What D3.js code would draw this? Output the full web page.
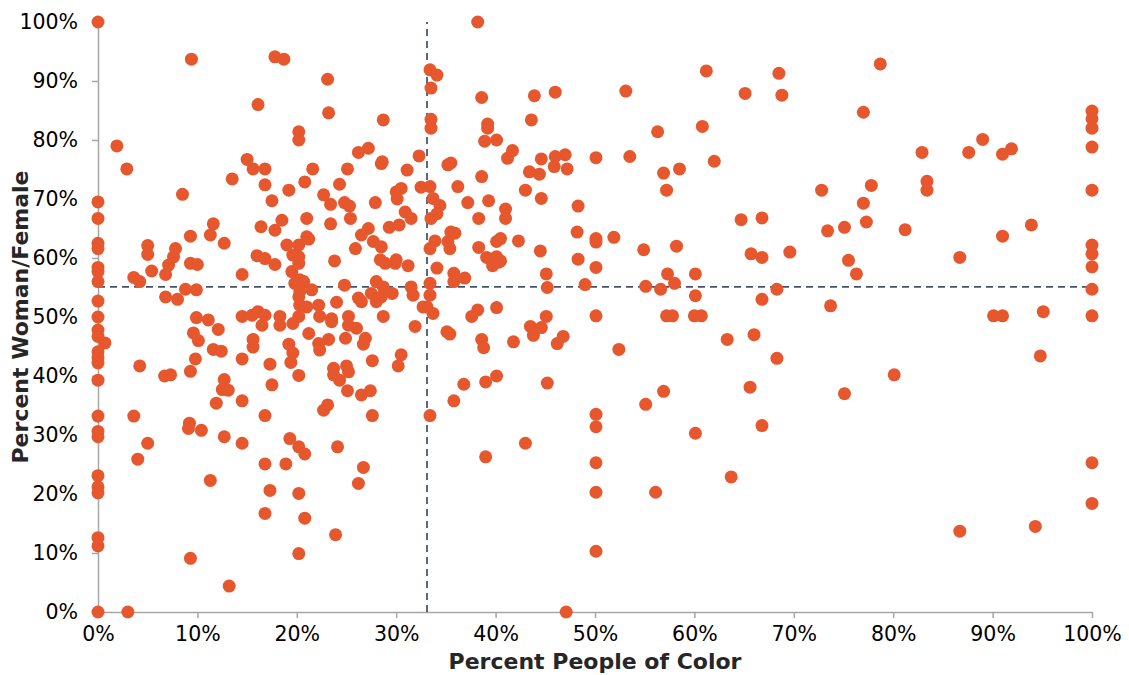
<!DOCTYPE html>
<html>
<head>
<meta charset="utf-8">
<script src="https://cdn.jsdelivr.net/npm/d3@7"></script>
<style>
  body { margin: 0; background: #fff; }
  svg { display: block; font-family: "DejaVu Sans", Verdana, sans-serif; }
  .axis path, .axis line { stroke: #a6a6a6; stroke-width: 1.5; }
  .axis text { fill: #000; font-size: 20.5px; font-family: "DejaVu Sans", Verdana, sans-serif; }
  .title { font-weight: bold; font-size: 22px; fill: #262626; }
</style>
</head>
<body>
<svg width="1129" height="675"></svg>
<script>
// percent people of color, percent woman/female
const points = [
  [0,100],[0,69.5],[0,66.7],[0,62.5],[0,61.6],[0,58.4],[0,57.7],[0,56],[0,52.7],[0,50],
  [9.4,93.7],[16.1,86.0],[1.9,79.0],[2.9,75.1],[15.0,76.7],[15.6,75.1],[13.5,73.4],[16.8,72.4],[8.5,70.8],[11.6,65.8],
  [11.3,63.9],[9.3,63.7],[16.4,65.3],[12.7,62.5],[5.0,62.1],[5.0,60.6],[7.8,61.6],[7.6,60.2],[7.1,58.8],[6.8,57.2],
  [5.4,57.8],[3.6,56.7],[4.2,56.0],[9.3,59.1],[10.0,58.9],[14.5,57.2],[16.0,60.4],[6.8,53.4],[8.0,53.0],[8.8,54.7],
  [9.9,54.6],[9.9,49.9],[11.1,49.5],[14.5,50.1],[15.5,50.3],[16.1,50.9],
  [0,47.8],[0,46.7],[0,44.1],[0,43.1],[0,42.2],[0,39.3],[0,33.2],[0,30.6],[0,29.7],[0,23.1],
  [0,21.2],[0,20.2],[0,12.6],[0,11.2],[0,0],[0.7,45.6],
  [12.1,47.9],[9.6,47.3],[10.1,46.0],[11.6,44.5],[12.4,44.2],[15.6,46.2],[15.6,44.9],[9.8,42.9],[14.5,42.9],[4.2,41.7],
  [9.3,40.8],[6.7,40.0],[7.3,40.2],[12.7,39.4],[12.5,37.7],[13.1,37.6],[11.9,35.4],[14.5,35.8],[3.6,33.2],[9.2,32.0],
  [9.1,31.1],[10.4,30.8],[12.7,29.7],[14.5,28.6],[5.0,28.6],[4.0,25.9],[11.3,22.3],[9.3,9.1],[13.2,4.4],[3.0,0],
  [17.8,94.1],[18.7,93.7],[23.1,90.3],[23.2,84.6],[20.2,81.4],[20.2,80.0],[28.7,83.4],[26.2,77.9],[27.2,78.6],[28.6,76.3],
  [28.5,76.0],[32.3,77.3],[31.1,74.9],[16.8,75.1],[21.6,75.1],[25.1,75.1],[19.2,71.5],[20.8,72.9],[24.3,72.5],[17.5,69.7],
  [22.7,70.7],[23.4,69.1],[24.8,69.4],[25.3,68.8],[27.9,69.4],[30.0,71.2],[30.5,71.8],[30.1,70.0],[32.5,72.0],[17.8,64.7],
  [18.5,66.4],[21.0,66.7],[23.4,65.8],[25.4,66.7],[29.3,65.2],[30.3,65.6],[30.9,67.8],[31.5,66.7],[27.2,65.0],[26.5,63.9],
  [21.0,63.6],[21.2,63.2],[20.2,62.2],[27.7,62.8],[28.5,61.9],[25.9,61.6],[16.8,59.9],[17.8,58.9],[19.0,62.2],[19.6,60.5],
  [20.2,60.2],[20.2,59.1],[19.5,57.7],[23.8,59.5],[28.4,59.7],[28.9,59.1],[30.0,59.7],[29.9,59.1],[31.2,58.7],[20.3,56.3],
  [20.7,56.0],[19.8,55.7],[21.5,54.6],[20.3,54.3],[20.2,53.4],[21.0,51.7],[20.3,52.0],[24.8,55.4],[28.0,56.0],[28.7,55.1],
  [29.6,54.0],[31.5,55.1],[26.2,53.2],[26.5,52.6],[27.5,54.0],[28.0,52.6],[28.5,53.4],[31.7,53.7],[32.7,51.7],[22.2,52.0],
  [24.0,52.5],[16.8,50.3],[18.3,50.1],[20.2,50.1],[22.3,50.1],[23.5,49.7],[25.2,50.1],[28.7,50.1],
  [16.5,48.6],[18.3,48.6],[19.6,48.9],[23.5,49.2],[25.2,48.6],[26.0,48.1],[31.9,48.4],[21.2,47.2],[23.2,46.2],[22.2,45.5],
  [22.3,44.4],[24.9,46.4],[26.9,46.4],[26.7,45.4],[19.2,45.4],[19.6,43.9],[19.4,42.3],[17.3,42.0],[20.2,40.1],[17.5,38.5],
  [27.6,42.6],[30.5,43.6],[30.2,41.7],[23.7,41.3],[25.0,41.7],[25.2,40.7],[23.7,40.2],[24.3,39.3],[25.1,37.5],[26.5,36.8],
  [27.4,37.5],[16.8,33.3],[22.7,34.2],[23.1,35.1],[27.6,33.3],[19.3,29.4],[20.2,28.0],[20.8,26.8],[24.1,28.0],[16.8,25.1],
  [18.9,25.1],[26.7,24.5],[26.2,21.8],[17.3,20.6],[20.2,20.1],[16.8,16.7],[20.8,15.9],[23.9,13.1],[20.2,9.9],
  [38.2,100],[33.4,91.9],[34.1,91.0],[33.5,88.8],[38.6,87.2],[43.9,87.5],[46.0,88.1],[33.5,83.5],[33.5,82.0],[39.2,82.7],
  [39.2,82.0],[38.9,79.8],[40.1,80.0],[43.6,83.4],[41.2,76.9],[41.7,78.2],[44.6,76.8],[46.0,77.2],[47.0,77.5],[45.9,75.5],
  [47.2,75.1],[43.4,74.6],[44.4,74.2],[35.2,75.8],[35.5,76.1],[38.6,73.8],[36.2,72.1],[33.4,72.1],[43.0,71.5],[44.6,70.1],
  [33.7,70.1],[34.4,68.9],[34.1,67.5],[33.5,66.7],[37.2,69.4],[39.3,69.7],[41.0,68.3],[41.0,66.7],[48.3,68.8],[38.3,66.7],
  [35.5,64.4],[35.9,64.2],[35.2,62.8],[35.4,61.6],[33.9,62.9],[33.4,61.6],[38.3,61.8],[40.1,62.8],[40.5,63.3],[42.3,62.9],
  [39.1,60.1],[39.7,58.7],[40.3,59.3],[40.5,59.5],[40.1,60.2],[44.5,61.2],[48.2,64.4],[48.3,59.8],[34.1,58.3],[35.8,57.4],
  [35.8,56.0],[36.9,56.6],[33.4,55.7],[33.4,53.7],[45.1,57.3],[45.2,55.0],[49.0,55.5],[33.1,51.7],[33.7,50.6],[37.6,50.1],
  [38.2,51.2],[40.1,51.6],[45.1,50.1],
  [35.1,47.5],[35.4,47.1],[38.6,46.2],[38.8,44.8],[41.8,45.8],[43.5,48.4],[43.8,46.9],[44.6,48.2],[46.8,46.7],[46.2,45.5],
  [36.8,38.6],[39.0,39.0],[40.1,40.0],[45.2,38.8],[35.8,35.8],[33.4,33.3],[43.0,28.6],[39.0,26.3],[47.1,0],
  [61.2,91.7],[68.5,91.3],[68.8,87.6],[53.1,88.3],[65.1,87.9],[60.8,82.3],[56.3,81.4],[50.1,77.0],[53.5,77.2],[62.0,76.4],
  [56.9,74.4],[58.5,75.1],[57.2,71.5],[72.8,71.5],[50.1,63.3],[50.1,62.7],[51.9,63.5],[54.9,61.4],[58.2,62.0],[50.1,58.4],
  [57.3,57.3],[60.1,57.3],[64.7,66.5],[66.8,66.8],[65.7,60.7],[66.8,60.1],[69.6,61.0],[73.4,64.6],[55.1,55.2],[56.6,54.7],
  [58.0,55.7],[60.1,53.6],[66.8,53.0],[68.3,54.7],[73.7,51.9],[50.1,50.2],[57.2,50.2],[57.8,50.2],[60.0,50.2],[60.7,50.2],
  [52.4,44.5],[63.3,46.2],[66.0,47.0],[68.3,43.0],[65.6,38.1],[56.9,37.4],[55.1,35.2],[50.1,33.5],[50.1,31.4],[66.8,31.6],
  [60.1,30.3],[50.1,25.3],[63.7,22.9],[50.1,20.3],[56.1,20.3],[50.1,10.3],
  [78.7,92.9],[77.0,84.7],[82.9,77.9],[87.6,77.9],[89.0,80.1],[91.0,77.6],[91.9,78.5],[100,84.9],[100,83.6],[100,82.0],
  [100,78.8],[77.8,72.3],[83.4,73.0],[83.4,71.5],[77.0,69.3],[77.3,66.1],[75.1,65.2],[81.2,64.8],[91.0,63.7],[93.9,65.6],
  [100,71.5],[100,62.2],[100,60.7],[100,58.5],[75.5,59.6],[76.3,57.3],[86.7,60.1],[100,54.7],[90.1,50.2],[91.0,50.2],
  [95.1,50.9],[100,50.2],[94.8,43.4],[80.1,40.2],[75.1,37.0],[100,25.3],[100,18.4],[86.7,13.7],[94.3,14.5]
];

const xTicks = d3.range(0, 101, 10);
const yTicks = d3.range(0, 101, 10);
const avgPoc = 33.1;    // vertical reference line
const avgWoman = 55.1;  // horizontal reference line

const xTitle = 'Percent People of Color';
const yTitle = 'Percent Woman/Female';

const svg = d3.select('svg');
const margin = { top: 22, right: 37, bottom: 63, left: 98 };
const width = +svg.attr('width') - margin.left - margin.right;
const height = +svg.attr('height') - margin.top - margin.bottom;

const g = svg.append('g')
  .attr('transform', `translate(${margin.left},${margin.top})`);

const x = d3.scaleLinear().domain([0, 100]).range([0, width]);
const y = d3.scaleLinear().domain([0, 100]).range([height, 0]);

const pct = d => d + '%';

// axes
g.append('g')
  .attr('class', 'x axis')
  .attr('transform', `translate(0,${height})`)
  .call(d3.axisBottom(x).tickValues(xTicks).tickFormat(pct).tickSize(6).tickSizeOuter(0).tickPadding(8));

g.append('g')
  .attr('class', 'y axis')
  .call(d3.axisLeft(y).tickValues(yTicks).tickFormat(pct).tickSize(6).tickSizeOuter(0).tickPadding(14));

// reference lines
g.append('line')
  .attr('x1', x(avgPoc)).attr('x2', x(avgPoc))
  .attr('y1', y(0)).attr('y2', y(100))
  .attr('stroke', '#44546a').attr('stroke-width', 1.75)
  .attr('stroke-dasharray', '7,5');

g.append('line')
  .attr('x1', x(0)).attr('x2', x(100))
  .attr('y1', y(avgWoman)).attr('y2', y(avgWoman))
  .attr('stroke', '#44546a').attr('stroke-width', 1.75)
  .attr('stroke-dasharray', '7,5');

// dots
g.append('g')
  .attr('class', 'dots')
  .selectAll('circle')
  .data(points)
  .enter()
  .append('circle')
    .attr('cx', d => x(d[0]))
    .attr('cy', d => y(d[1]))
    .attr('r', 6.5)
    .attr('fill', '#e6572e');

// titles
svg.append('text')
  .attr('class', 'title')
  .attr('x', margin.left + width / 2)
  .attr('y', 669)
  .attr('text-anchor', 'middle')
  .text(xTitle);

svg.append('text')
  .attr('class', 'title')
  .attr('transform', `translate(28,${margin.top + height / 2}) rotate(-90)`)
  .attr('text-anchor', 'middle')
  .text(yTitle);
</script>
</body>
</html>
